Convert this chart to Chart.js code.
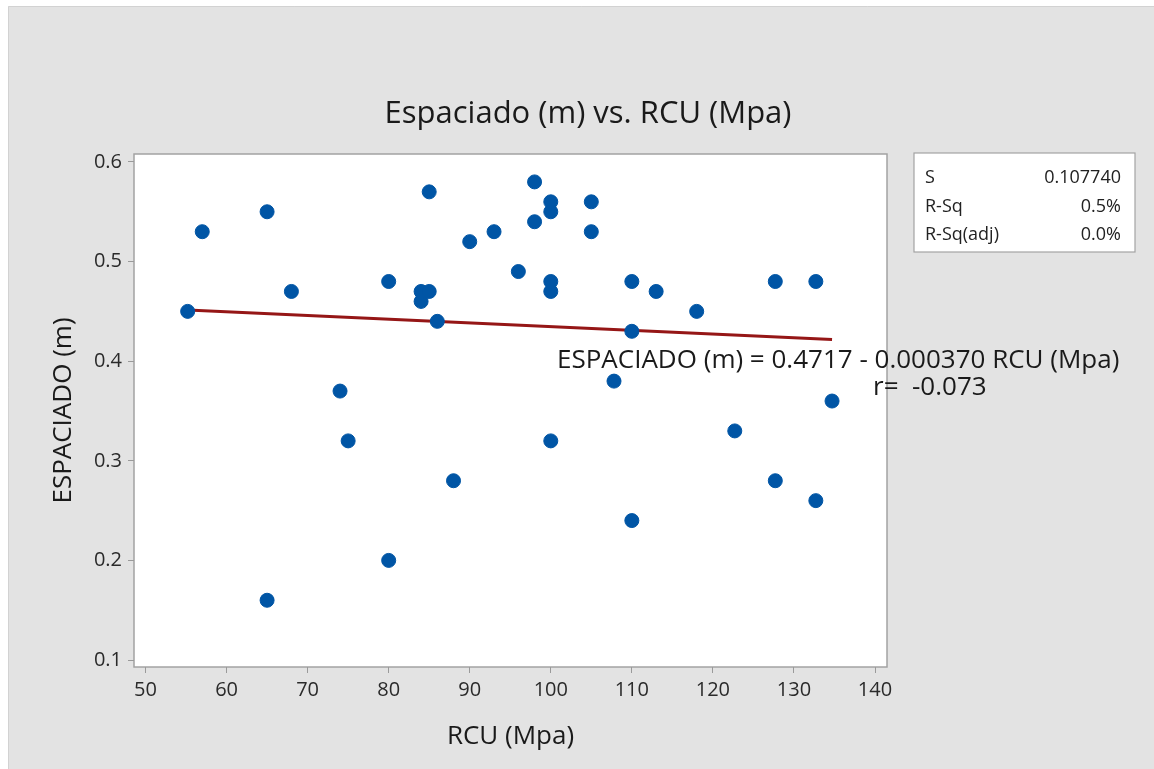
<!DOCTYPE html>
<html>
<head>
<meta charset="utf-8">
<script src="https://cdn.jsdelivr.net/npm/chart.js@4.4.1/dist/chart.umd.min.js"></script>
<style>
  html, body { margin: 0; padding: 0; background: #ffffff; }
  canvas { display: block; }
</style>
</head>
<body>
<canvas id="chart" width="1154" height="769"></canvas>
<script>
// RCU (Mpa) vs spacing (m) for each sample
const rcu = [55.2, 57, 65, 65, 68, 74, 75, 80, 80, 84, 84, 85, 85, 86, 88, 90, 93, 96, 98, 98,
  100, 100, 100, 100, 100, 105, 105, 107.8, 110, 110, 110, 113, 118, 122.7, 127.7, 127.7, 132.7, 132.7, 134.7];
const espaciado = [0.45, 0.53, 0.55, 0.16, 0.47, 0.37, 0.32, 0.48, 0.20, 0.46, 0.47, 0.47, 0.57, 0.44, 0.28, 0.52, 0.53, 0.49, 0.58, 0.54,
  0.56, 0.55, 0.48, 0.47, 0.32, 0.56, 0.53, 0.38, 0.48, 0.43, 0.24, 0.47, 0.45, 0.33, 0.48, 0.28, 0.48, 0.26, 0.36];

// fitted line: ESPACIADO = 0.4717 - 0.000370 RCU
const intercept = 0.4717;
const slope = -0.000370;
const fitX = [Math.min(...rcu), Math.max(...rcu)];

const xTicks = [50, 60, 70, 80, 90, 100, 110, 120, 130, 140];
const yTicks = [0.1, 0.2, 0.3, 0.4, 0.5, 0.6];

const statLabels = ['S', 'R-Sq', 'R-Sq(adj)'];
const statValues = ['0.107740', '0.5%', '0.0%'];

const FONT = '"Open Sans", "Noto Sans", sans-serif';

const decor = {
  id: 'decor',
  beforeDraw(chart) {
    const { ctx, chartArea: a } = chart;
    ctx.save();
    ctx.fillStyle = '#ffffff';
    ctx.fillRect(0, 0, chart.width, chart.height);
    ctx.fillStyle = '#e3e3e3';
    ctx.fillRect(8, 6, chart.width - 8, chart.height - 6);
    ctx.strokeStyle = '#d2d2d2';
    ctx.lineWidth = 1;
    ctx.beginPath();
    ctx.moveTo(8.5, chart.height);
    ctx.lineTo(8.5, 6.5);
    ctx.lineTo(chart.width, 6.5);
    ctx.stroke();

    // plot frame
    ctx.fillStyle = '#ffffff';
    ctx.fillRect(a.left, a.top, a.right - a.left, a.bottom - a.top);
    ctx.strokeStyle = '#a3a3a3';
    ctx.lineWidth = 1.5;
    ctx.strokeRect(a.left, a.top, a.right - a.left, a.bottom - a.top);

    // title
    ctx.fillStyle = '#1a1a1a';
    ctx.font = '31px ' + FONT;
    ctx.textAlign = 'center';
    ctx.textBaseline = 'middle';
    ctx.fillText('Espaciado (m) vs. RCU (Mpa)', 588, 114);

    // stats table
    const bx = 914, by = 153, bw = 221, bh = 99;
    ctx.fillStyle = '#ffffff';
    ctx.fillRect(bx, by, bw, bh);
    ctx.strokeStyle = '#a3a3a3';
    ctx.lineWidth = 1.2;
    ctx.strokeRect(bx, by, bw, bh);
    ctx.fillStyle = '#222222';
    ctx.font = '18px ' + FONT;
    statLabels.forEach((lab, i) => {
      const y = 178 + i * 28.5;
      ctx.textAlign = 'left';
      ctx.fillText(lab, 925, y);
      ctx.textAlign = 'right';
      ctx.fillText(statValues[i], 1121, y);
    });
    ctx.restore();
  },
  afterDatasetsDraw(chart) {
    const { ctx } = chart;
    ctx.save();
    ctx.fillStyle = '#1a1a1a';
    ctx.font = '26px ' + FONT;
    ctx.textAlign = 'left';
    ctx.textBaseline = 'middle';
    ctx.fillText('ESPACIADO (m) = 0.4717 - 0.000370 RCU (Mpa)', 557, 361);
    ctx.fillText('r=  -0.073', 873, 388);
    ctx.restore();
  }
};

new Chart(document.getElementById('chart'), {
  type: 'scatter',
  data: {
    datasets: [
      {
        label: 'ESPACIADO (m)',
        data: rcu.map((x, i) => ({ x: x, y: espaciado[i] })),
        backgroundColor: '#0055a5',
        borderColor: '#0055a5',
        pointRadius: 7,
        pointHoverRadius: 7,
        order: 0
      },
      {
        label: 'Ajuste',
        type: 'line',
        data: fitX.map(x => ({ x: x, y: intercept + slope * x })),
        borderColor: '#951616',
        borderWidth: 3,
        pointRadius: 0,
        fill: false,
        order: 1
      }
    ]
  },
  options: {
    responsive: false,
    animation: false,
    events: [],
    layout: { padding: { left: 40, right: 267, top: 154, bottom: 17 } },
    plugins: {
      legend: { display: false },
      tooltip: { enabled: false }
    },
    scales: {
      x: {
        type: 'linear',
        min: 48.58,
        max: 141.48,
        afterFit: (scale) => { scale.height = 85; },
        afterBuildTicks: (scale) => { scale.ticks = xTicks.map(v => ({ value: v })); },
        border: { display: false },
        grid: { drawOnChartArea: false, drawTicks: true, tickLength: 6, color: '#9a9a9a' },
        ticks: {
          padding: 5,
          color: '#2a2a2a',
          font: { family: FONT, size: 20 },
          callback: (v) => String(v)
        },
        title: {
          display: true,
          text: 'RCU (Mpa)',
          color: '#1a1a1a',
          font: { family: FONT, size: 26 },
          padding: { top: 0, bottom: 0 }
        }
      },
      y: {
        type: 'linear',
        min: 0.093,
        max: 0.608,
        afterFit: (scale) => { scale.width = 94; },
        afterBuildTicks: (scale) => { scale.ticks = yTicks.map(v => ({ value: v })); },
        border: { display: false },
        grid: { drawOnChartArea: false, drawTicks: true, tickLength: 6, color: '#9a9a9a' },
        ticks: {
          padding: 6,
          color: '#2a2a2a',
          font: { family: FONT, size: 20 },
          callback: (v) => v.toFixed(1)
        },
        title: {
          display: true,
          text: 'ESPACIADO (m)',
          color: '#1a1a1a',
          font: { family: FONT, size: 26 },
          padding: { top: 8, bottom: 0 }
        }
      }
    }
  },
  plugins: [decor]
});
</script>
</body>
</html>
